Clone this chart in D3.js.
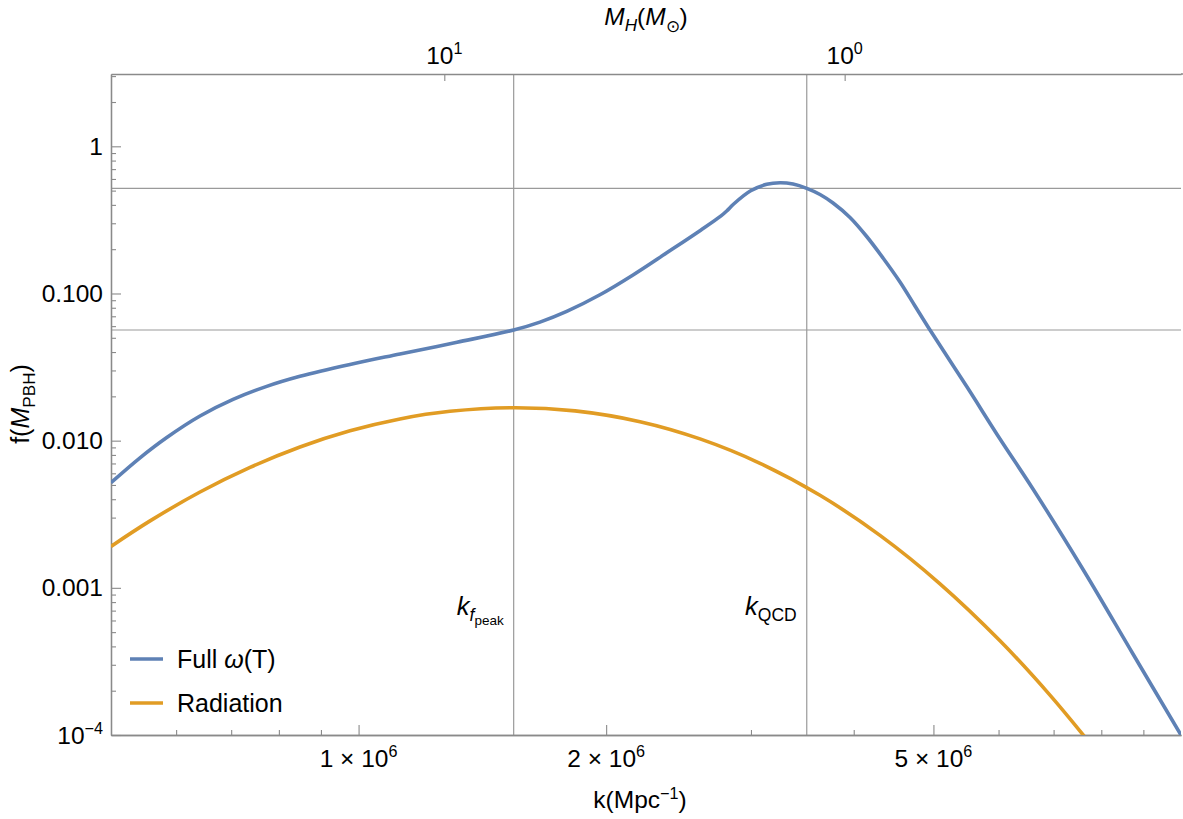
<!DOCTYPE html>
<html>
<head>
<meta charset="utf-8">
<script src="https://cdn.jsdelivr.net/npm/d3@7"></script>
<style>
  html, body { margin: 0; padding: 0; background: #fff; }
  svg { display: block; }
  text { font-family: "Liberation Sans", Arial, Helvetica, sans-serif; fill: #000; }
</style>
</head>
<body>
<svg id="chart" width="1183" height="819"></svg>
<script>
// ---------------- data ----------------
const kFull = [5.0e5, 5.423e5, 5.845e5, 6.415e5, 7.037e5, 7.717e5, 8.487e5, 9.763e5, 1.1228e6, 1.3174e6,
  1.5438e6, 1.6617e6, 1.791e6, 1.9656e6, 2.1564e6, 2.3698e6, 2.6061e6, 2.7562e6, 2.8029e6, 2.8584e6,
  2.9976e6, 3.1354e6, 3.2543e6, 3.3748e6, 3.5071e6, 3.6401e6, 3.775e6, 3.9587e6, 4.148e6, 4.3418e6,
  4.5532e6, 4.7485e6, 4.9524e6, 5.4889e6, 6.0249e6, 6.6071e6, 7.6019e6, 8.7425e6, 1.0e7];
const fFull = [0.005180, 0.0076479, 0.010507, 0.014712, 0.019075, 0.023299, 0.027372, 0.032975, 0.038804, 0.046610,
  0.05648, 0.063915, 0.075531, 0.097971, 0.13356, 0.18892, 0.26917, 0.33509, 0.36358, 0.40566,
  0.49862, 0.55193, 0.56594, 0.55453, 0.51843, 0.47064, 0.41207, 0.32835, 0.24385, 0.17425,
  0.11970, 0.082224, 0.05648, 0.023299, 0.010263, 0.0046955, 0.0013322, 3.551e-4, 1.0e-4];

const kRad = [5.0e5, 5.578e5, 6.415e5, 7.38e5, 8.487e5, 9.763e5, 1.1228e6, 1.2915e6, 1.55e6, 1.8333e6,
  2.1989e6, 2.6012e6, 3.0771e6, 3.6396e6, 4.3054e6, 5.0929e6, 6.0246e6, 6.9291e6, 7.7503e6];
const fRad = [0.0019122, 0.0028494, 0.0044771, 0.0065808, 0.0090558, 0.011668, 0.014057, 0.015831, 0.016749, 0.015930,
  0.013456, 0.010280, 0.0070196, 0.0042531, 0.0022712, 0.0010651, 4.3664e-4, 1.8667e-4, 8.78e-5];

const seriesNames = ["Full \u03c9(T)", "Radiation"];
const seriesColors = ["#5E81B5", "#E19C24"];

const kGrid = [1.5438e6, 3.5071e6];        // k_fpeak, k_QCD
const fGrid = [0.05648, 0.51843];          // f at those k
const kGridLabels = [["k", "f", "peak"], ["k", "QCD"]];

const xMajor = [1e6, 2e6, 5e6];
const xMajorLabels = [["1 \u00d7 10", "6"], ["2 \u00d7 10", "6"], ["5 \u00d7 10", "6"]];
const xMinor = [6e5, 7e5, 8e5, 9e5, 3e6, 4e6, 6e6, 7e6, 8e6, 9e6];

const yMajor = [1e-4, 1e-3, 1e-2, 1e-1, 1];
const yMajorLabels = [["10", "\u22124"], ["0.001", ""], ["0.010", ""], ["0.100", ""], ["1", ""]];
const yMinor = [2e-4, 3e-4, 4e-4, 5e-4, 6e-4, 7e-4, 8e-4, 9e-4,
  2e-3, 3e-3, 4e-3, 5e-3, 6e-3, 7e-3, 8e-3, 9e-3,
  0.02, 0.03, 0.04, 0.05, 0.06, 0.07, 0.08, 0.09,
  0.2, 0.3, 0.4, 0.5, 0.6, 0.7, 0.8, 0.9, 2, 3];

const topMajor = [10, 1];
const topMajorLabels = [["10", "1"], ["10", "0"]];
const kDomain = [5e5, 1e7];
const fDomain = [1e-4, 3.1];
const mDomain = [68.0, 0.1445];

// ---------------- layout ----------------
const L = 111, R = 1181, T = 74, B = 735;
const svg = d3.select("#chart");
svg.append("rect").attr("width", 1183).attr("height", 819).attr("fill", "#fff");

const x = d3.scaleLog().domain(kDomain).range([L, R]);
const y = d3.scaleLog().domain(fDomain).range([B, T]);
const xTop = d3.scaleLog().domain(mDomain).range([L, R]);

const axisColor = "#8a8a8a";
const gridColor = "#9a9a9a";
const FS = 24.5;

svg.append("defs").append("clipPath").attr("id", "plotclip")
  .append("rect").attr("x", L).attr("y", T).attr("width", R - L).attr("height", B - T);

// grid lines
const g = svg.append("g");
g.selectAll("line.vg").data(kGrid).join("line")
  .attr("x1", d => x(d)).attr("x2", d => x(d)).attr("y1", T).attr("y2", B)
  .attr("stroke", gridColor).attr("stroke-width", 1.2);
g.selectAll("line.hg").data(fGrid).join("line")
  .attr("x1", L).attr("x2", R).attr("y1", d => y(d)).attr("y2", d => y(d))
  .attr("stroke", gridColor).attr("stroke-width", 1.2);

// axes
function styleAxis(sel) {
  sel.selectAll("path.domain").attr("stroke", axisColor).attr("stroke-width", 1.3);
  sel.selectAll(".tick line").attr("stroke", axisColor).attr("stroke-width", 1.1);
  sel.selectAll(".tick text").remove();
}
const gb = svg.append("g").attr("transform", `translate(0,${B})`)
  .call(d3.axisBottom(x).tickValues(xMajor).tickSizeInner(-10).tickSizeOuter(0).tickFormat(""));
styleAxis(gb);
const gbm = svg.append("g").attr("transform", `translate(0,${B})`)
  .call(d3.axisBottom(x).tickValues(xMinor).tickSizeInner(-5).tickSizeOuter(0).tickFormat(""));
styleAxis(gbm);

const gl = svg.append("g").attr("transform", `translate(${L},0)`)
  .call(d3.axisLeft(y).tickValues(yMajor).tickSizeInner(-10).tickSizeOuter(0).tickFormat(""));
styleAxis(gl);
const glm = svg.append("g").attr("transform", `translate(${L},0)`)
  .call(d3.axisLeft(y).tickValues(yMinor).tickSizeInner(-5).tickSizeOuter(0).tickFormat(""));
styleAxis(glm);

const gt = svg.append("g").attr("transform", `translate(0,${T})`)
  .call(d3.axisTop(xTop).tickValues(topMajor).tickSizeInner(-7).tickSizeOuter(0).tickFormat(""));
styleAxis(gt);
svg.append("line").attr("x1", R).attr("x2", 1183).attr("y1", T).attr("y2", T)
  .attr("stroke", axisColor).attr("stroke-width", 1.3);

// tick labels with superscripts
function supLabel(sel, parts, fs) {
  sel.append("tspan").text(parts[0]);
  if (parts[1]) sel.append("tspan").attr("font-size", fs * 0.66).attr("dy", -fs * 0.4).text(parts[1]);
}
xMajor.forEach((v, i) => {
  const t = svg.append("text").attr("x", x(v)).attr("y", 767).attr("text-anchor", "middle").attr("font-size", FS);
  supLabel(t, xMajorLabels[i], FS);
});
yMajor.forEach((v, i) => {
  const t = svg.append("text").attr("x", 103).attr("y", y(v) + 8.5).attr("text-anchor", "end").attr("font-size", FS);
  supLabel(t, yMajorLabels[i], FS);
});
topMajor.forEach((v, i) => {
  const t = svg.append("text").attr("x", xTop(v)).attr("y", 64).attr("text-anchor", "middle").attr("font-size", FS);
  supLabel(t, topMajorLabels[i], FS);
});

// axis titles
const xt = svg.append("text").attr("x", (L + R) / 2 - 6).attr("y", 808).attr("text-anchor", "middle").attr("font-size", FS);
xt.append("tspan").text("k(Mpc");
xt.append("tspan").attr("font-size", FS * 0.66).attr("dy", -9).text("\u22121");
xt.append("tspan").attr("dy", 9).text(")");

const tt = svg.append("text").attr("x", (L + R) / 2).attr("y", 25).attr("text-anchor", "middle").attr("font-size", FS);
tt.append("tspan").attr("font-style", "italic").text("M");
tt.append("tspan").attr("font-style", "italic").attr("font-size", FS * 0.7).attr("dy", 6).text("H");
tt.append("tspan").attr("dy", -6).text("(");
tt.append("tspan").attr("font-style", "italic").text("M");
tt.append("tspan").attr("font-size", FS * 0.7).attr("dy", 7).text("\u2299");
tt.append("tspan").attr("dy", -7).text(")");

const yt = svg.append("text").attr("transform", `translate(29,404) rotate(-90)`)
  .attr("text-anchor", "middle").attr("font-size", FS + 0.5);
yt.append("tspan").text("f(");
yt.append("tspan").attr("font-style", "italic").text("M");
yt.append("tspan").attr("font-size", FS * 0.7).attr("dy", 6).text("PBH");
yt.append("tspan").attr("dy", -6).text(")");

// curves
const line = d3.line().x(d => x(d[0])).y(d => y(d[1])).curve(d3.curveCatmullRom.alpha(0.5));
const cg = svg.append("g").attr("clip-path", "url(#plotclip)");
cg.append("path").datum(d3.zip(kRad, fRad)).attr("d", line)
  .attr("fill", "none").attr("stroke", seriesColors[1]).attr("stroke-width", 3.6).attr("stroke-linejoin", "round");
cg.append("path").datum(d3.zip(kFull, fFull)).attr("d", line)
  .attr("fill", "none").attr("stroke", seriesColors[0]).attr("stroke-width", 3.6).attr("stroke-linejoin", "round");

// annotations
kGrid.forEach((v, i) => {
  const parts = kGridLabels[i];
  const t = svg.append("text").attr("x", x(v) - 10).attr("y", 615).attr("text-anchor", "end").attr("font-size", FS + 1);
  t.append("tspan").attr("font-style", "italic").text(parts[0]);
  if (parts.length === 3) {
    t.append("tspan").attr("font-style", "italic").attr("font-size", 17.5).attr("dy", 6).text(parts[1]);
    t.append("tspan").attr("font-size", 13.5).attr("dy", 4).text(parts[2]);
  } else {
    t.append("tspan").attr("font-size", 17.5).attr("dy", 6).text(parts[1]);
  }
});

// legend
const legY = [659, 703];
seriesNames.forEach((name, i) => {
  svg.append("line").attr("x1", 130).attr("x2", 163).attr("y1", legY[i]).attr("y2", legY[i])
    .attr("stroke", seriesColors[i]).attr("stroke-width", 3.6);
  const t = svg.append("text").attr("x", 177).attr("y", legY[i] + 8.5).attr("font-size", FS + 0.5);
  if (i === 0) {
    t.append("tspan").text("Full ");
    t.append("tspan").attr("font-style", "italic").text("\u03c9");
    t.append("tspan").text("(T)");
  } else {
    t.text(name);
  }
});
</script>
</body>
</html>
